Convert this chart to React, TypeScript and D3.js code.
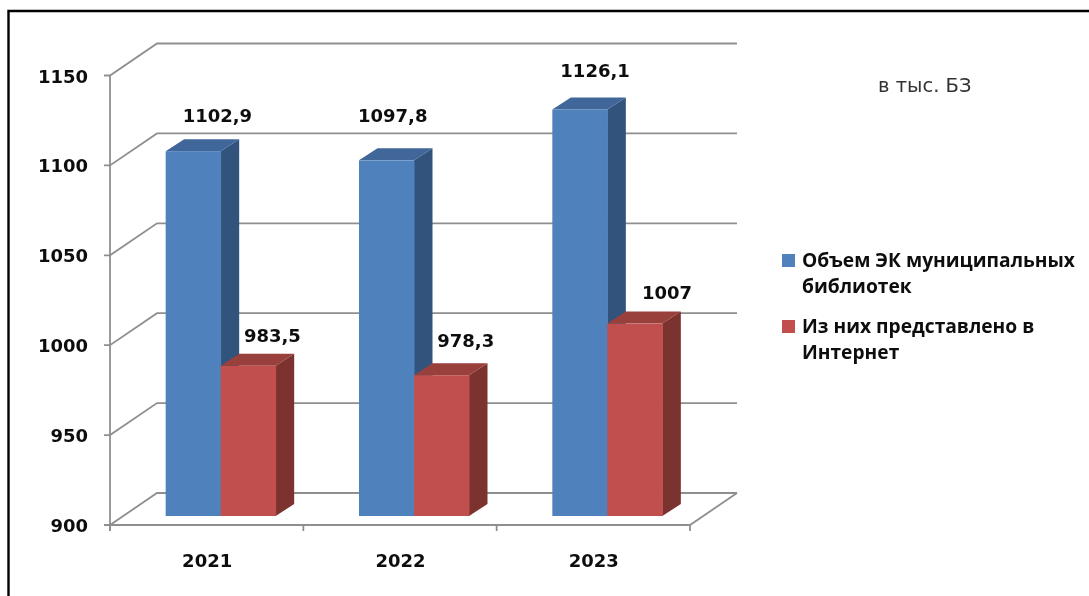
import React from "react";
import * as d3 from "d3";

const categories = ["2021", "2022", "2023"];
const seriesNames = ["Объем ЭК муниципальных библиотек", "Из них представлено в Интернет"];
const volumeValues = [1102.9, 1097.8, 1126.1];
const internetValues = [983.5, 978.3, 1007];
const volumeLabels = ["1102,9", "1097,8", "1126,1"];
const internetLabels = ["983,5", "978,3", "1007"];
const yTicks = [900, 950, 1000, 1050, 1100, 1150];
const unitNote = "в тыс. БЗ";

const W = 1089, H = 596;
const NUM_FONT = "'DejaVu Sans', sans-serif";
const LEGEND_FONT = "'Open Sans', sans-serif";
const GRID = "#8f8f8f";
const wall = { dx: 47, dy: -32 };
const plane = { dx: 14, dy: -9 };
const depth = { dx: 18.5, dy: -12 };
const barW = 55;

const palette = [
  { front: "#4f81bd", top: "#3f669a", side: "#30527c" },
  { front: "#c0504d", top: "#993f3c", side: "#7b302e" },
];
// label anchor (x centre, baseline y) nudged by hand in the source chart
const labelNudge = [
  [[15, -17], [15, -12]],
  [[-3, -26], [15, -16]],
  [[6, -20], [23, -13]],
];

const x = d3.scaleBand<string>().domain(categories).range([110, 690]);
const y = d3.scaleLinear().domain([900, 1150]).range([525, 75.5]);
const poly = (pts: number[][]) => (d3.line()(pts as [number, number][]) ?? "") + "Z";

export default function App() {
  const series = [volumeValues, internetValues];
  const texts = [volumeLabels, internetLabels];
  const base = y(900) + plane.dy;
  const xEnd = x.range()[1];
  const xStart = x.range()[0];
  return (
    <svg width={W} height={H} style={{ position: "absolute", left: 0, top: 0 }}>
      <defs>
        <filter id="soft" x="-5%" y="-5%" width="110%" height="110%">
          <feGaussianBlur stdDeviation="0.45" />
        </filter>
      </defs>
      <rect width={W} height={H} fill="#fff" />
      <path d={`M8.5 ${H}V11H${W}`} fill="none" stroke="#000" strokeWidth={2.4} />
      <g filter="url(#soft)">
        {yTicks.map((t) => (
          <path
            key={t}
            d={`M${xStart - 6} ${y(t)}H${xStart}L${xStart + wall.dx} ${y(t) + wall.dy}H${xEnd + wall.dx}`}
            stroke={GRID}
            strokeWidth={1.8}
            fill="none"
          />
        ))}
        <path d={`M${xStart} ${y(1150)}V${y(900) + 6}`} stroke={GRID} strokeWidth={1.8} fill="none" />
        <path d={`M${xStart} ${y(900)}H${xEnd}L${xEnd + wall.dx} ${y(900) + wall.dy}`} stroke={GRID} strokeWidth={1.8} fill="none" />
        {[...categories.map((c) => x(c)!), xEnd].map((px) => (
          <path key={px} d={`M${px} ${y(900)}v6`} stroke={GRID} strokeWidth={1.8} />
        ))}
        {categories.map((c, i) => {
          const cx = x(c)! + x.bandwidth() / 2 + plane.dx;
          return series.map((vals, s) => {
            const x0 = cx + (s - 1) * barW;
            const x1 = x0 + barW;
            const top = y(vals[i]) + plane.dy;
            const p = palette[s];
            return (
              <g key={c + s}>
                <path d={poly([[x1, base], [x1 + depth.dx, base + depth.dy], [x1 + depth.dx, top + depth.dy], [x1, top]])} fill={p.side} />
                <path d={poly([[x0, top], [x0 + depth.dx, top + depth.dy], [x1 + depth.dx, top + depth.dy], [x1, top]])} fill={p.top} />
                <rect x={x0} y={top} width={barW + 0.5} height={base - top} fill={p.front} />
              </g>
            );
          });
        })}
        <g fontFamily={NUM_FONT} fontWeight={700} fontSize={18} fill="#111">
          {yTicks.map((t) => (
            <text key={t} x={88} y={y(t) + 7} textAnchor="end">{t}</text>
          ))}
          {categories.map((c) => (
            <text key={c} x={x(c)! + x.bandwidth() / 2 + 0.5} y={567} textAnchor="middle">{c}</text>
          ))}
          {categories.map((c, i) =>
            series.map((vals, s) => {
              const cx = x(c)! + x.bandwidth() / 2 + plane.dx + (s - 0.5) * barW + depth.dx / 2;
              const top = y(vals[i]) + plane.dy + depth.dy;
              return (
                <text key={c + s} x={cx + labelNudge[i][s][0]} y={top + labelNudge[i][s][1]} textAnchor="middle">
                  {texts[s][i]}
                </text>
              );
            })
          )}
        </g>
        <g fontFamily={LEGEND_FONT} fontWeight={700} fontSize={19.2} fill="#111">
          {seriesNames.map((n, s) => {
            const ly = s === 0 ? 267 : 333;
            const cut = s === 0 ? "Объем ЭК муниципальных" : "Из них представлено в";
            return (
              <g key={n}>
                <rect x={782} y={ly - 13} width={13} height={13} fill={palette[s].front} />
                <text x={802} y={ly}>{cut}</text>
                <text x={802} y={ly + 26}>{n.slice(cut.length + 1)}</text>
              </g>
            );
          })}
        </g>
        <text x={878} y={92} fontFamily={NUM_FONT} fontSize={19.5} fill="#333">{unitNote}</text>
      </g>
    </svg>
  );
}
